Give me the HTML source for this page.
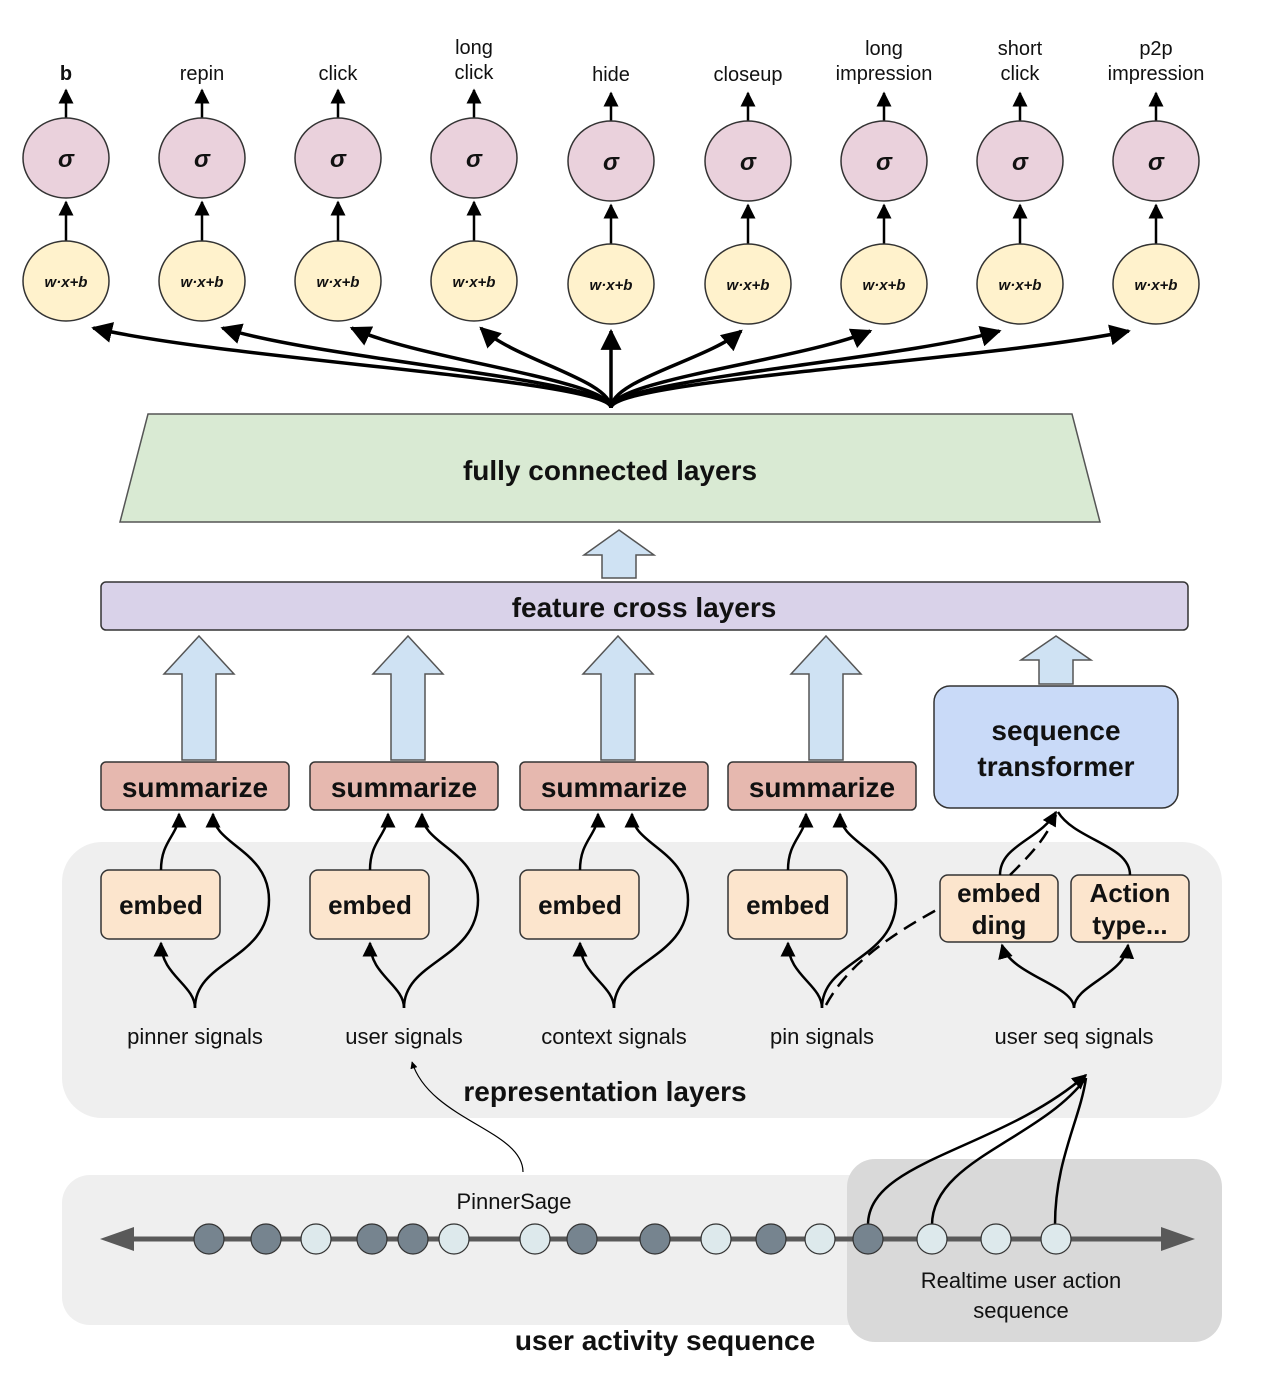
<!DOCTYPE html>
<html><head><meta charset="utf-8"><style>
body{margin:0;background:#fff}
svg{display:block}
text{font-family:"Liberation Sans",sans-serif;fill:#111}
.b{font-weight:bold}
</style></head><body>
<svg id="s" width="1280" height="1374" viewBox="0 0 1280 1374" xmlns="http://www.w3.org/2000/svg">
<defs>
<marker id="ah" viewBox="0 0 10 10" refX="9" refY="5" markerWidth="4" markerHeight="4" orient="auto-start-reverse"><path d="M0,0L10,5L0,10z" fill="#000"/></marker>
<marker id="ah2" viewBox="0 0 10 10" refX="9" refY="5" markerWidth="6" markerHeight="6" orient="auto"><path d="M0,0L10,5L0,10z" fill="#000"/></marker>
</defs>
<!-- backgrounds -->
<rect x="62" y="842" width="1160" height="276" rx="40" fill="#efefef"/>
<rect x="62" y="1175" width="1160" height="150" rx="28" fill="#efefef"/>
<rect x="847" y="1159" width="375" height="183" rx="28" fill="#d9d9d9"/>
<g id="heads"></g>
<g id="fan" fill="none" stroke="#000" stroke-width="3.5"></g>
<polygon points="148,414 1072,414 1100,522 120,522" fill="#d9ead3" stroke="#555" stroke-width="1.5"/>
<text x="610" y="480" font-size="28" text-anchor="middle" class="b">fully connected layers</text>
<rect x="101" y="582" width="1087" height="48" rx="5" fill="#d9d2e9" stroke="#333" stroke-width="1.5"/>
<text x="644" y="617" font-size="28" text-anchor="middle" class="b">feature cross layers</text>
<g id="arrows"></g>
<g id="cols"></g>
<rect x="934" y="686" width="244" height="122" rx="16" fill="#c9daf8" stroke="#333" stroke-width="1.5"/>
<text x="1056" y="740" font-size="28" text-anchor="middle" class="b">sequence</text>
<text x="1056" y="776" font-size="28" text-anchor="middle" class="b">transformer</text>
<rect x="940" y="875" width="118" height="67" rx="8" fill="#fce5cd" stroke="#333" stroke-width="1.5"/>
<text x="999" y="902" font-size="26" text-anchor="middle" class="b">embed</text>
<text x="999" y="934" font-size="26" text-anchor="middle" class="b">ding</text>
<rect x="1071" y="875" width="118" height="67" rx="8" fill="#fce5cd" stroke="#333" stroke-width="1.5"/>
<text x="1130" y="902" font-size="26" text-anchor="middle" class="b">Action</text>
<text x="1130" y="934" font-size="26" text-anchor="middle" class="b">type...</text>
<g fill="none" stroke="#000" stroke-width="2.5">
<path d="M1000,875 C1000,845 1040,840 1056,812" marker-end="url(#ah2)"/>
<path d="M1130,875 C1130,845 1075,840 1058,812"/>
<path d="M1074,1008 C1074,985 1010,975 1002,945" marker-end="url(#ah2)"/>
<path d="M1074,1008 C1074,985 1125,975 1128,945" marker-end="url(#ah2)"/>
<path d="M826,1005 C850,960 900,930 940,908 M1010,875 C1030,855 1045,840 1056,815" stroke-dasharray="14,8"/>
<path d="M523,1172 C523,1130 430,1120 412,1062" stroke-width="1.2" marker-end="url(#ah2)"/>
<path d="M868,1225 C868,1160 1000,1150 1086,1075" marker-end="url(#ah2)"/>
<path d="M932,1225 C932,1160 1040,1140 1086,1078"/>
<path d="M1055,1225 C1055,1160 1080,1120 1086,1078"/>
</g>
<text x="1074" y="1044" font-size="22" text-anchor="middle">user seq signals</text>
<text x="605" y="1101" font-size="28" text-anchor="middle" class="b">representation layers</text>
<text x="514" y="1209" font-size="22" text-anchor="middle">PinnerSage</text>
<line x1="125" y1="1239" x2="1170" y2="1239" stroke="#595959" stroke-width="5"/>
<polygon points="100,1239 134,1227 134,1251" fill="#595959"/>
<polygon points="1195,1239 1161,1227 1161,1251" fill="#595959"/>
<g id="dots"></g>
<text x="1021" y="1288" font-size="22" text-anchor="middle">Realtime user action</text>
<text x="1021" y="1318" font-size="22" text-anchor="middle">sequence</text>
<text x="665" y="1350" font-size="28" text-anchor="middle" class="b">user activity sequence</text>
</svg>
<script>
const NS="http://www.w3.org/2000/svg";
const headX=[66,202,338,474,611,748,884,1020,1156];
const headLabels=[["b"],["repin"],["click"],["long","click"],["hide"],["closeup"],["long","impression"],["short","click"],["p2p","impression"]];
const colX=[199,408,618,826];
const signalLabels=["pinner signals","user signals","context signals","pin signals"];
const darkDots=[209,266,372,413,582,655,771,868];
const lightDots=[316,454,535,716,820,932,996,1056];
function el(p,t,a,txt){const e=document.createElementNS(NS,t);for(const k in a)e.setAttribute(k,a[k]);if(txt)e.textContent=txt;p.appendChild(e);return e;}
const heads=document.getElementById('heads'),fan=document.getElementById('fan');
headX.forEach((x,i)=>{
  const d=i<4?0:3;
  const g=el(heads,'g',{});
  
  
  el(g,'line',{x1:x,y1:118+d,x2:x,y2:90+d,stroke:'#000','stroke-width':2.5,'marker-end':'url(#ah2)'});
  el(g,'ellipse',{cx:x,cy:158+d,rx:43,ry:40,fill:'#ead1dc',stroke:'#333','stroke-width':1.5});
  el(g,'text',{x:x,y:167+d,'font-size':24,'text-anchor':'middle','font-weight':'bold','font-style':'italic','font-family':'Liberation Serif'},'σ');
  el(g,'line',{x1:x,y1:241+d,x2:x,y2:202+d,stroke:'#000','stroke-width':2.5,'marker-end':'url(#ah2)'});
  el(g,'ellipse',{cx:x,cy:281+d,rx:43,ry:40,fill:'#fff2cc',stroke:'#333','stroke-width':1.5});
  el(g,'text',{x:x,y:287+d,'font-size':15,'text-anchor':'middle','font-weight':'bold','font-style':'italic'},'w·x+b');
  const L=headLabels[i];
  L.forEach((s,j)=>el(g,'text',{x:x,y:(L.length==2?54:80)+j*25+(d?d-2:0),'font-size':20,'text-anchor':'middle','font-weight':i==0?'bold':'normal'},s));
  const tx=x+(611-x)*0.02, ty=324+d;
  const p=el(fan,'path',{d:`M611,408 C611,380 ${x+(611-x)*0.3},360 ${x+(611-x)*0.05},${ty+4}`,'marker-end':'url(#ah2)'});
});
const arrows=document.getElementById('arrows');
function bigArrow(cx,top,headBase,bottom,sw,hw){
  const a=el(arrows,'polygon',{points:`${cx},${top} ${cx+hw},${headBase} ${cx+sw},${headBase} ${cx+sw},${bottom} ${cx-sw},${bottom} ${cx-sw},${headBase} ${cx-hw},${headBase}`,fill:'#cfe2f3',stroke:'#555','stroke-width':1.5});
  
  
}
bigArrow(619,530,555,578,17,35);
colX.forEach(x=>bigArrow(x,636,674,760,17,35));
bigArrow(1056,636,660,684,17,35);
const cols=document.getElementById('cols');
colX.forEach((x,i)=>{
  const g=el(cols,'g',{});
  
  
  el(g,'rect',{x:x-98,y:762,width:188,height:48,rx:5,fill:'#e6b8af',stroke:'#333','stroke-width':1.5});
  el(g,'text',{x:x-4,y:797,'font-size':28,'text-anchor':'middle','font-weight':'bold'},'summarize');
  const ex=x-38;
  el(g,'rect',{x:ex-60,y:870,width:119,height:69,rx:8,fill:'#fce5cd',stroke:'#333','stroke-width':1.5});
  el(g,'text',{x:ex,y:914,'font-size':26,'text-anchor':'middle','font-weight':'bold'},'embed');
  const fx=x-4;
  el(g,'path',{d:`M${ex},870 C${ex},840 ${x-20},835 ${x-20},814`,fill:'none',stroke:'#000','stroke-width':2.5,'marker-end':'url(#ah2)'});
  el(g,'path',{d:`M${fx},1008 C${fx},985 ${ex},975 ${ex},943`,fill:'none',stroke:'#000','stroke-width':2.5,'marker-end':'url(#ah2)'});
  el(g,'path',{d:`M${fx},1008 C${fx},960 ${x+70},960 ${x+70},900 C${x+70},850 ${x+14},845 ${x+14},814`,fill:'none',stroke:'#000','stroke-width':2.5,'marker-end':'url(#ah2)'});
  el(g,'text',{x:fx,y:1044,'font-size':22,'text-anchor':'middle'},signalLabels[i]);
});
const dots=document.getElementById('dots');
darkDots.forEach(x=>{const c=el(dots,'ellipse',{cx:x,cy:1239,rx:15,ry:15,fill:'#76848f',stroke:'#333','stroke-width':1.2});
  
  });
lightDots.forEach(x=>{const c=el(dots,'ellipse',{cx:x,cy:1239,rx:15,ry:15,fill:'#dde9ec',stroke:'#333','stroke-width':1.2});
  
  });
</script>
</body></html>
